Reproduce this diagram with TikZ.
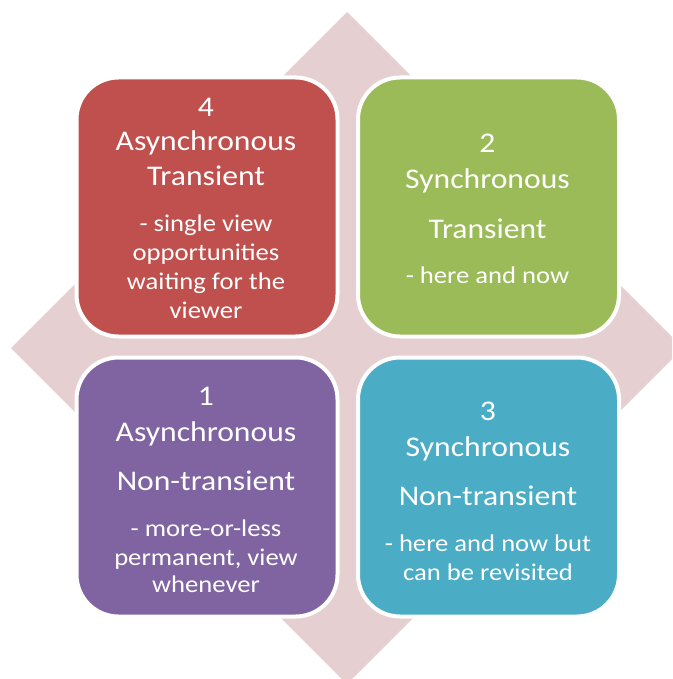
\documentclass[tikz,border=0pt]{standalone}
\usepackage{fontspec}
\setmainfont{Carlito}
\newfontfamily\stretchf[FakeStretch=1.11]{Carlito}
\definecolor{cRed}{HTML}{C0504D}
\definecolor{cGreen}{HTML}{9BBB59}
\definecolor{cPurple}{HTML}{8064A2}
\definecolor{cBlue}{HTML}{4BACC6}
\definecolor{cPink}{HTML}{E6CFD0}
\tikzset{
  box/.style={rectangle, rounded corners=42pt, draw=white, line width=4pt,
    minimum width=261pt, minimum height=259pt, inner sep=0pt},
  big/.style={anchor=base, text=white, inner sep=0pt, font=\stretchf\fontsize{28.5}{34}\selectfont},
  small/.style={anchor=base, text=white, inner sep=0pt, font=\stretchf\fontsize{24}{29}\selectfont}
}
\begin{document}
\begin{tikzpicture}[x=1pt,y=-1pt]
\useasboundingbox (0,0) rectangle (672,679);
\clip (0,0) rectangle (672,679);
\fill[cPink] (347,12) -- (683,348) -- (347,684) -- (11,348) -- cycle;
\node[box, fill=cRed] (b4) at (207,207) {};
\node[box, fill=cGreen] (b2) at (488.5,207) {};
\node[box, fill=cPurple] (b1) at (207,487) {};
\node[box, fill=cBlue] (b3) at (488.5,487) {};
% red box 4
\node[big] (t4a) at (206,116.7) {4};
\node[big] (t4b) at (206,151) {Asynchronous};
\node[big] (t4c) at (206,185.7) {Transient};
\node[small] (t4d) at (206,231.7) {- single view};
\node[small] (t4e) at (206,260.5) {opportunities};
\node[small] (t4f) at (206,289.3) {waiting for the};
\node[small] (t4g) at (206,318) {viewer};
% green box 2
\node[big] (t2a) at (487.5,152.3) {2};
\node[big] (t2b) at (487.5,188.3) {Synchronous};
\node[big] (t2c) at (487.5,238.3) {Transient};
\node[small] (t2d) at (487.5,283.3) {- here and now};
% purple box 1
\node[big] (t1a) at (206,405) {1};
\node[big] (t1b) at (206,441.7) {Asynchronous};
\node[big] (t1c) at (206,490.7) {Non-transient};
\node[small] (t1d) at (206,536.7) {- more-or-less};
\node[small] (t1e) at (206,565) {permanent, view};
\node[small] (t1f) at (206,592.7) {whenever};
% blue box 3
\node[big] (t3a) at (488,420.7) {3};
\node[big] (t3b) at (488,456.7) {Synchronous};
\node[big] (t3c) at (488,505.7) {Non-transient};
\node[small] (t3d) at (488,551.7) {- here and now but};
\node[small] (t3e) at (488,580) {can be revisited};
\end{tikzpicture}
\end{document}
